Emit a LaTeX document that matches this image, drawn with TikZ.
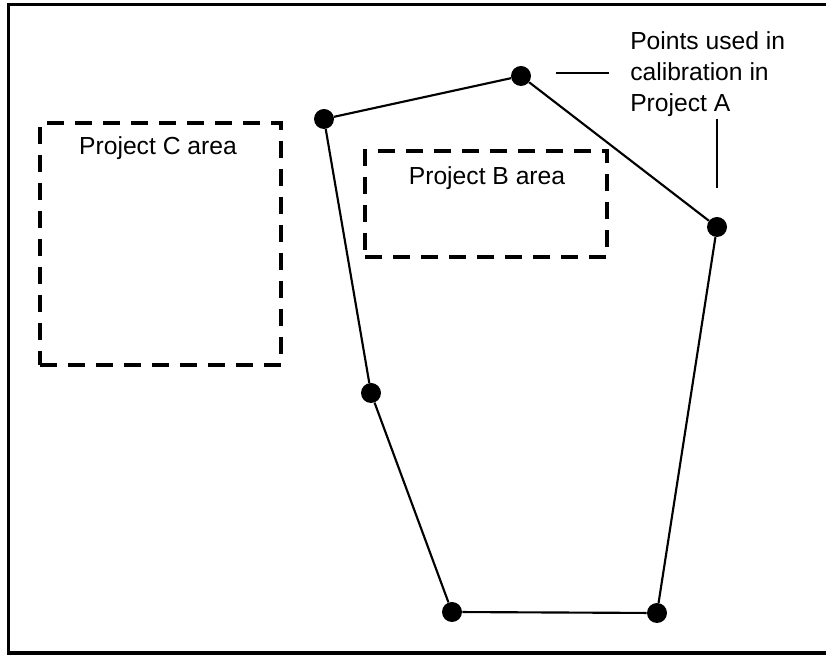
\documentclass[tikz,border=0pt]{standalone}
\usepackage{fontspec}
\setmainfont{Liberation Sans}
\usetikzlibrary{positioning}

\begin{document}
\begin{tikzpicture}[x=0.75pt,y=-0.75pt,
    dot/.style={circle,fill=black,inner sep=0pt,minimum size=15pt},
    area/.style={draw,dash pattern=on 12.5pt off 8.5pt,line width=2.3pt,inner sep=0pt},
    txt/.style={font=\fontsize{18.5}{23.25}\selectfont,inner sep=0pt}]
    \useasboundingbox (0,0) rectangle (826,655);

    % okvir
    \draw [line width=2.5pt] (830,4.7) -- (8.5,4.7) -- (8.5,653) -- (830,653);

    % obmocja projektov
    \node [area,minimum width=180.75pt,minimum height=181.5pt] (areaC) at (160.5,244) {};
    \node [txt,anchor=base] (txtC) at (158,155) {Project C area};
    \node [area,minimum width=181.5pt,minimum height=79.5pt] (areaB) at (486,204) {};
    \node [txt,anchor=base] (txtB) at (487,185) {Project B area};

    % tocke
    \node [dot] (p1) at (324,119) {};
    \node [dot] (p2) at (521,76) {};
    \node [dot] (p3) at (717,227) {};
    \node [dot] (p4) at (657,613) {};
    \node [dot] (p5) at (452,612) {};
    \node [dot] (p6) at (371,393) {};
    \draw [line width=1.6pt] (p1) -- (p2) -- (p3) -- (p4) -- (p5) -- (p6) -- (p1);

    % labela in povezave
    \node [txt,align=left,anchor=north west] (note) at (630,31) {Points used in\\calibration in\\Project A};
    \coordinate (h1) at (556,73);
    \coordinate (h2) at (609,73);
    \draw [line width=1.6pt] (h1) -- (h2);
    \coordinate (v1) at (717,119);
    \coordinate (v2) at (717,188);
    \draw [line width=1.6pt] (v1) -- (v2);
\end{tikzpicture}
\end{document}
